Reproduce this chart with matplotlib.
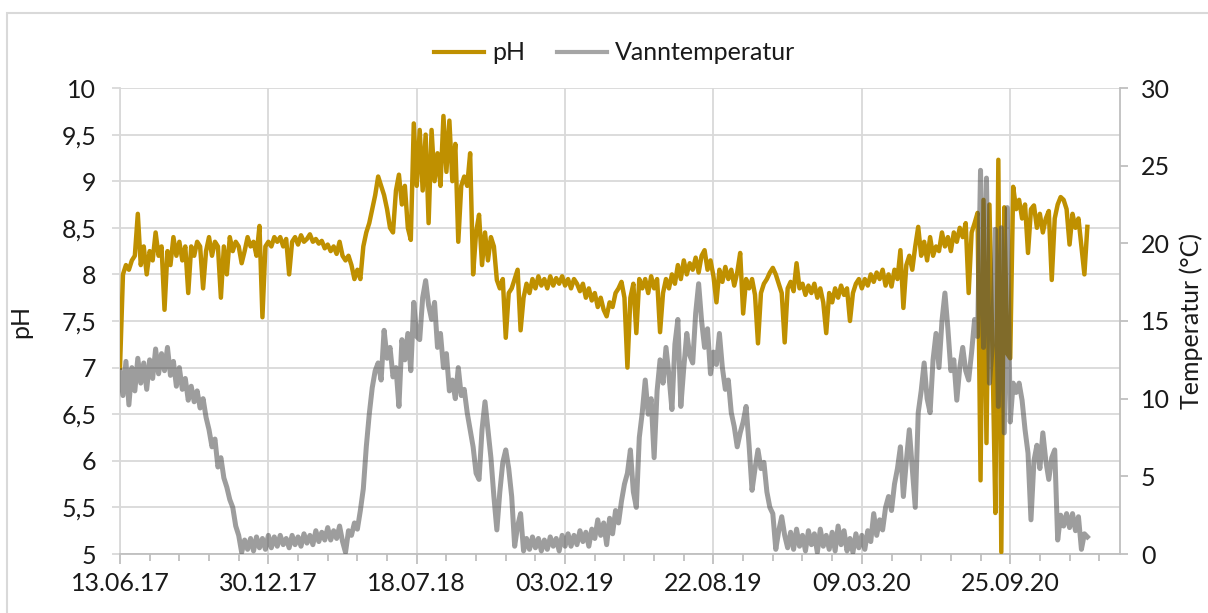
import numpy as np
import pandas as pd
import matplotlib
matplotlib.use('Agg')
import matplotlib.pyplot as plt
import matplotlib.dates as mdates
from matplotlib.ticker import FixedLocator, FuncFormatter
from matplotlib.lines import Line2D
from matplotlib.patches import Rectangle

plt.rcParams['font.family'] = ['Lato', 'DejaVu Sans']

# ---------------- data ----------------
start_date = '2017-06-13'
end_date = '2021-02-20'
sample_step = '4D'

ph_values = [
    7.0, 8.0, 8.1, 8.05, 8.15, 8.2, 8.65, 8.1, 8.3, 8.0, 8.25, 8.15, 8.45, 8.2, 8.3, 7.62, 8.25, 8.1, 8.4, 8.2, 8.35, 8.15, 8.3, 7.8, 8.3, 8.2,
    8.35, 8.3, 7.85, 8.25, 8.4, 8.2, 8.35, 8.3, 7.75, 8.3, 8.0, 8.4, 8.25, 8.35, 8.3, 8.12, 8.25, 8.4, 8.3, 8.35, 8.2, 8.52, 7.54, 8.3, 8.35,
    8.3, 8.4, 8.35, 8.4, 8.3, 8.38, 8.0, 8.35, 8.4, 8.32, 8.42, 8.35, 8.38, 8.43, 8.35, 8.38, 8.33, 8.36, 8.28, 8.32, 8.25, 8.3, 8.22, 8.35, 8.2,
    8.15, 8.2, 8.1, 7.95, 8.05, 7.95, 8.3, 8.45, 8.55, 8.7, 8.85, 9.05, 8.95, 8.85, 8.7, 8.5, 8.45, 8.9, 9.07, 8.75, 8.95, 8.5, 8.37, 9.62, 8.95,
    9.55, 8.9, 9.5, 8.55, 9.55, 9.0, 9.3, 8.95, 9.7, 9.1, 9.65, 9.0, 9.4, 8.35, 8.95, 9.05, 8.95, 9.3, 8.0, 8.45, 8.64, 8.1, 8.45, 8.15, 8.4,
    8.3, 7.94, 7.85, 7.95, 7.32, 7.8, 7.85, 7.95, 8.05, 7.4, 7.75, 7.9, 7.8, 7.95, 7.85, 7.98, 7.88, 7.95, 7.85, 7.98, 7.88, 7.96, 7.9, 7.98, 7.88,
    7.95, 7.85, 7.95, 7.9, 7.82, 7.9, 7.75, 7.85, 7.72, 7.8, 7.65, 7.75, 7.62, 7.55, 7.7, 7.65, 7.8, 7.85, 7.92, 7.75, 7.0, 7.75, 7.9, 7.37, 7.95,
    7.85, 7.95, 7.8, 7.98, 7.85, 7.95, 7.38, 7.8, 7.95, 7.85, 8.0, 7.9, 8.1, 7.95, 8.15, 8.0, 8.12, 8.05, 8.18, 8.02, 8.2, 8.26, 8.05, 8.15, 7.98,
    7.7, 8.05, 7.92, 8.08, 7.95, 8.05, 7.88, 8.02, 8.23, 7.58, 7.95, 7.85, 7.95, 7.78, 7.26, 7.8, 7.9, 7.95, 8.02, 8.07, 8.0, 7.9, 7.8, 7.27, 7.85,
    7.92, 7.82, 8.12, 7.85, 7.9, 7.78, 7.88, 7.8, 7.9, 7.75, 7.85, 7.7, 7.37, 7.8, 7.7, 7.85, 7.75, 7.88, 7.78, 7.85, 7.5, 7.8, 7.9, 7.95, 7.85,
    7.95, 7.88, 8.0, 7.92, 8.02, 7.95, 8.05, 7.88, 8.0, 7.87, 8.05, 7.95, 8.26, 7.64, 8.1, 8.2, 8.05, 8.3, 8.51, 8.2, 8.35, 8.15, 8.4, 8.2, 8.3,
    8.25, 8.45, 8.3, 8.4, 8.25, 8.45, 8.35, 8.5, 8.4, 8.55, 7.8, 8.45, 8.55, 8.66, 5.79, 8.8, 6.19, 8.75, 7.2, 5.44, 9.23, 5.02, 8.72, 7.15, 7.1,
    8.94, 8.7, 8.8, 8.6, 8.75, 8.23, 8.7, 8.74, 8.5, 8.65, 8.45, 8.6, 8.68, 7.94, 8.6, 8.75, 8.83, 8.8, 8.7, 8.32, 8.65, 8.5, 8.6, 8.3, 8.0, 8.51,
]

temp_values = [
    11.8, 10.2, 12.4, 9.6, 12.0, 10.5, 12.6, 11.0, 12.3, 10.6, 12.5, 11.3, 13.2, 11.6, 12.9, 11.8, 13.3, 11.5, 12.4, 10.8, 12.0, 10.6, 11.3, 9.9, 10.8, 9.8,
    10.5, 9.4, 10.0, 8.8, 8.0, 6.9, 7.4, 5.6, 6.2, 4.9, 4.3, 3.5, 3.0, 1.8, 1.2, 0.1, 0.9, 0.3, 1.0, 0.2, 1.1, 0.4, 1.0, 0.3, 1.2,
    0.4, 1.1, 0.5, 1.2, 0.6, 1.0, 0.4, 1.2, 0.6, 1.1, 0.5, 1.3, 0.7, 1.2, 0.6, 1.5, 0.8, 1.4, 0.9, 1.7, 0.9, 1.5, 1.0, 1.8, 0.8,
    0.1, 1.5, 1.2, 2.0, 1.6, 2.8, 4.2, 6.9, 9.0, 10.7, 11.8, 12.3, 11.2, 14.4, 12.6, 13.3, 11.4, 12.0, 9.5, 13.8, 12.5, 14.2, 11.8, 16.2, 14.0,
    13.8, 16.5, 17.6, 16.0, 15.1, 16.2, 13.3, 14.2, 12.0, 12.9, 10.5, 11.2, 10.0, 12.0, 10.2, 10.6, 9.1, 8.0, 6.9, 5.2, 4.8, 8.0, 9.8, 8.0, 6.2,
    3.7, 1.55, 4.0, 5.9, 6.7, 5.5, 3.7, 0.5, 1.8, 2.6, 0.2, 1.0, 0.3, 1.1, 0.4, 1.0, 0.2, 0.9, 0.3, 1.1, 0.5, 1.0, 0.2, 1.2, 0.5,
    1.3, 0.5, 1.2, 0.6, 1.5, 0.8, 1.4, 0.5, 1.6, 1.0, 2.2, 1.2, 2.0, 0.6, 2.3, 1.3, 2.8, 2.0, 3.4, 4.5, 5.2, 6.7, 4.0, 3.0, 7.5,
    9.1, 11.2, 9.0, 10.0, 6.2, 10.5, 12.5, 11.0, 13.3, 11.5, 9.3, 13.5, 15.1, 9.5, 12.0, 14.2, 12.8, 12.3, 15.5, 17.4, 15.0, 13.3, 14.5, 11.6, 13.0,
    12.2, 14.2, 12.0, 10.6, 11.2, 9.1, 8.2, 6.9, 7.8, 8.5, 9.5, 7.0, 4.1, 5.5, 6.7, 5.5, 5.9, 4.0, 3.0, 2.6, 0.3, 1.5, 2.4, 1.2, 0.4,
    1.4, 0.3, 1.6, 0.5, 1.2, 0.2, 1.5, 0.6, 1.3, 0.1, 1.6, 0.5, 1.2, 0.3, 1.4, 0.2, 1.8, 0.6, 1.5, 0.2, 1.0, 0.1, 1.3, 0.4, 1.2,
    0.3, 1.5, 0.8, 2.6, 1.2, 2.2, 1.55, 3.0, 3.7, 2.8, 4.5, 5.5, 6.9, 3.7, 6.0, 8.0, 5.5, 3.0, 9.1, 10.5, 12.3, 10.0, 9.1, 12.5, 14.2,
    12.0, 15.0, 16.8, 14.5, 11.8, 12.5, 9.9, 12.0, 13.3, 11.8, 11.2, 13.0, 15.1, 14.0, 24.7, 13.3, 24.2, 11.0, 13.5, 20.9, 9.5, 21.0, 7.8, 22.3, 8.5,
    11.0, 10.4, 11.0, 9.9, 8.0, 6.5, 2.2, 6.0, 7.0, 5.5, 7.8, 6.0, 4.8, 6.2, 6.7, 0.9, 2.5, 1.8, 2.6, 1.7, 2.6, 1.5, 2.4, 0.3, 1.3, 1.1,
]

series_labels = ['pH', 'Vanntemperatur']
ph_ticks = [5, 5.5, 6, 6.5, 7, 7.5, 8, 8.5, 9, 9.5, 10]
temp_ticks = [0, 5, 10, 15, 20, 25, 30]
major_tick_step = '200D'
minor_tick_step = '40D'
left_label = 'pH'
right_label = 'Temperatur (°C)'

# ---------------- style ----------------
ph_color = '#BF9000'
temp_color = '#4D4D4D'
temp_legend_color = '#A5A5A5'
grid_color = '#D9D9D9'
axis_color = '#BFBFBF'
text_color = '#1A1A1A'
fs = 18

W, H = 1208, 613
fig = plt.figure(figsize=(W / 100, H / 100), dpi=100)
fig.patch.set_facecolor('white')

# outer chart border (cropped at right/bottom in the reference)
fig.patches.append(Rectangle((7.5 / W, -0.1), 1.2, (1 - 13 / H) + 0.1,
                             transform=fig.transFigure, fill=False,
                             edgecolor=grid_color, lw=1.5))

left, right, top, bottom = 120 / W, 1120 / W, 1 - 88 / H, 1 - 554 / H
ax = fig.add_axes([left, bottom, right - left, top - bottom])
ax2 = ax.twinx()

dates = pd.date_range(start_date, periods=len(ph_values), freq=sample_step)

ax.plot(dates, ph_values, color=ph_color, lw=3.2, solid_joinstyle='round', zorder=3)
ax2.plot(dates, temp_values, color=temp_color, alpha=0.55, lw=3.6, solid_joinstyle='round', zorder=3)

x0, x1 = pd.Timestamp(start_date), pd.Timestamp(end_date)
ax.set_xlim(x0, x1)
ax.set_ylim(ph_ticks[0], ph_ticks[-1])
ax2.set_ylim(temp_ticks[0], temp_ticks[-1])

major_dates = pd.date_range(start_date, end_date, freq=major_tick_step)
minor_dates = pd.date_range(start_date, end_date, freq=minor_tick_step)
ax.xaxis.set_major_locator(FixedLocator(mdates.date2num(major_dates)))
ax.xaxis.set_minor_locator(FixedLocator(mdates.date2num(minor_dates)))
ax.xaxis.set_major_formatter(mdates.DateFormatter('%d.%m.%y'))

ax.yaxis.set_major_locator(FixedLocator(ph_ticks))
ax.yaxis.set_major_formatter(FuncFormatter(lambda v, p: ('%g' % v).replace('.', ',')))
ax2.yaxis.set_major_locator(FixedLocator(temp_ticks))
ax2.yaxis.set_major_formatter(FuncFormatter(lambda v, p: '%g' % v))

ax.grid(True, which='major', axis='both', color=grid_color, lw=1.3)
ax.set_axisbelow(True)

for s in ['top', 'right']:
    ax.spines[s].set_visible(False)
ax.spines['left'].set_color(grid_color)
ax.spines['left'].set_linewidth(1.3)
ax.spines['bottom'].set_color(axis_color)
ax.spines['bottom'].set_linewidth(1.3)
for s in ['top', 'left', 'bottom']:
    ax2.spines[s].set_visible(False)
ax2.spines['right'].set_color(axis_color)
ax2.spines['right'].set_linewidth(1.3)

ax.tick_params(axis='y', length=6, width=1.3, color=grid_color, pad=11,
               labelsize=fs, labelcolor=text_color)
ax.tick_params(axis='x', which='major', length=7, width=1.3, color=axis_color, pad=6,
               labelsize=fs, labelcolor=text_color)
ax.tick_params(axis='x', which='minor', length=5, width=1.3, color=axis_color)
ax2.tick_params(axis='y', length=6, width=1.3, color=axis_color, pad=9,
                labelsize=fs, labelcolor=text_color)

ax.set_ylabel(left_label, fontsize=fs, color=text_color)
ax.yaxis.set_label_coords(-0.088, 0.5)
ax2.set_ylabel(right_label, fontsize=fs, color=text_color)
ax2.yaxis.set_label_coords(1.059, 0.5)

handles = [Line2D([0], [0], color=ph_color, lw=3),
           Line2D([0], [0], color=temp_legend_color, lw=3)]
fig.legend(handles, series_labels, loc='center', bbox_to_anchor=(0.509, 1 - 53 / H),
           ncol=2, frameon=False, fontsize=fs, handlelength=2.0, handletextpad=0.3,
           columnspacing=1.3, labelcolor=text_color)

fig.savefig('out.png', dpi=100)
